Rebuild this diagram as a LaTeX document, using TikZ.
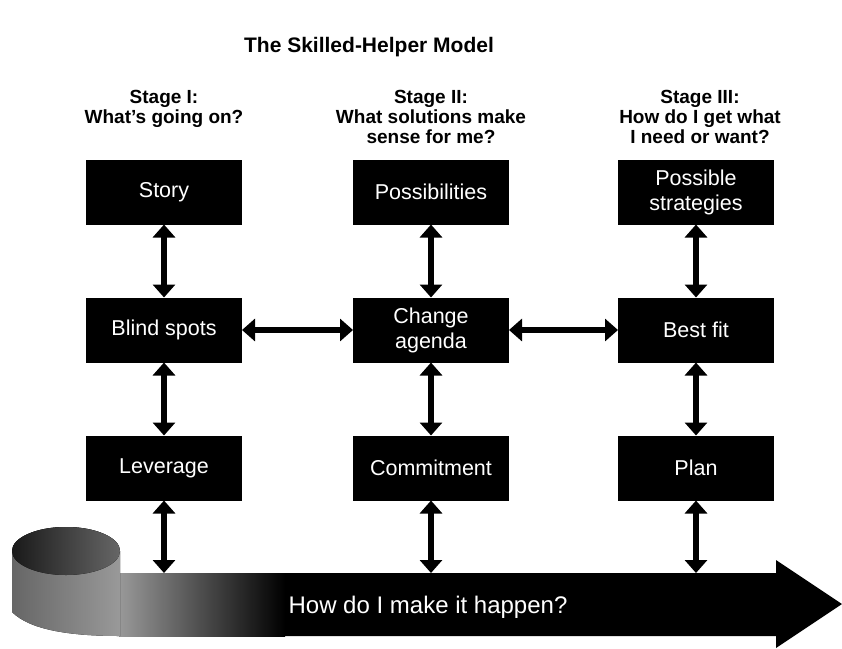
\documentclass[tikz,border=0pt]{standalone}
\usepackage{fontspec}
\setmainfont{Liberation Sans}
\usetikzlibrary{arrows.meta}
\tikzset{stagebox/.style={fill=black, text=white, inner sep=0pt, outer sep=0pt, minimum width=156pt, minimum height=65pt, align=center, font=\fontsize{21.5}{25}\selectfont}}
\tikzset{link/.style={{Triangle[length=13pt,width=22pt]}-{Triangle[length=13pt,width=22pt]}, line width=6pt}}
\tikzset{heading/.style={align=center, inner sep=0pt, anchor=north, font=\fontsize{19}{20}\selectfont\bfseries}}

\begin{document}
\begin{tikzpicture}[x=1pt,y=-1pt]
    \useasboundingbox (0,0) rectangle (842,648);
    \node [anchor=base, inner sep=0pt, font=\fontsize{21}{22}\selectfont\bfseries] (title) at (369,52) {The Skilled-Helper Model};
    \node [heading] (head1) at (164,90) {Stage I:\\What's going on?};
    \node [heading] (head2) at (431,90) {Stage II:\\What solutions make\\sense for me?};
    \node [heading] (head3) at (700,90) {Stage III:\\How do I get what\\I need or want?};
    \node [stagebox] (story) at (164,192) {Story};
    \node [stagebox] (possibilities) at (431,192) {Possibilities};
    \node [stagebox] (strategies) at (696,192) {Possible\\strategies};
    \node [stagebox] (blindspots) at (164,330) {Blind spots};
    \node [stagebox] (agenda) at (431,330) {Change\\agenda};
    \node [stagebox] (bestfit) at (696,330) {Best fit};
    \node [stagebox] (leverage) at (164,468) {Leverage};
    \node [stagebox] (commitment) at (431,468) {Commitment};
    \node [stagebox] (plan) at (696,468) {Plan};
    \fill [black] (120,573) -- (776,573) -- (776,560) -- (842,604) -- (776,648) -- (776,636) -- (120,636) -- cycle;
    \fill [left color=black!40, right color=black] (119,573) rectangle (285,636);
    \fill [left color=black!60, right color=black!40] (12,551) -- (12,612) .. controls (30,630) and (70,636) .. (120,636) -- (120,551) arc [start angle=0, end angle=-180, x radius=54, y radius=24] -- cycle;
    \fill [left color=black!90, right color=black!60] (66,551) ellipse [x radius=54, y radius=24];
    \node [anchor=base, inner sep=0pt, text=white, font=\fontsize{24}{26}\selectfont] (motto) at (428,613) {How do I make it happen?};
    \coordinate (foot1) at (164,573);
    \coordinate (foot2) at (431,573);
    \coordinate (foot3) at (696,573);
    \draw [link] (story.south) -- (blindspots.north);
    \draw [link] (blindspots.south) -- (leverage.north);
    \draw [link] (leverage.south) -- (foot1);
    \draw [link] (possibilities.south) -- (agenda.north);
    \draw [link] (agenda.south) -- (commitment.north);
    \draw [link] (commitment.south) -- (foot2);
    \draw [link] (strategies.south) -- (bestfit.north);
    \draw [link] (bestfit.south) -- (plan.north);
    \draw [link] (plan.south) -- (foot3);
    \draw [link] (blindspots.east) -- (agenda.west);
    \draw [link] (agenda.east) -- (bestfit.west);
\end{tikzpicture}
\end{document}
